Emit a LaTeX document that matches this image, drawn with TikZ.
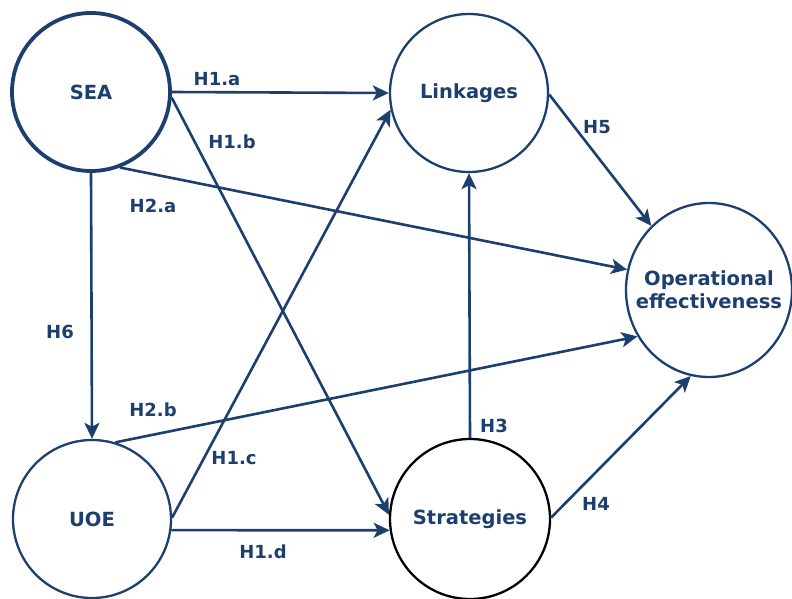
\documentclass[tikz,border=0pt]{standalone}
\usepackage{fontspec}
\setmainfont{DejaVu Sans}
\usetikzlibrary{arrows.meta,shapes.geometric}
\definecolor{navy}{HTML}{1C3F6E}
\tikzset{
  construct/.style={circle, draw=navy, line width=2.3pt, minimum size=158pt, inner sep=0pt,
    text=navy, font=\bfseries\fontsize{19.5}{22}\selectfont, align=center},
  path/.style={draw=navy, line width=2.6pt, -{Stealth[length=16pt,width=15pt,inset=4pt]}},
  hyp/.style={text=navy, font=\bfseries\fontsize{18}{20}\selectfont, inner sep=0pt}
}
\begin{document}
\begin{tikzpicture}[x=1pt,y=-1pt]
\useasboundingbox (0,0) rectangle (792,599);
\fill[white] (0,0) rectangle (792,599);

% latent constructs
\node[construct, line width=3.8pt] (sea) at (91,92) {SEA};
\node[construct] (lnk) at (469,93) {Linkages};
\node[construct] (uoe) at (92,519) {UOE};
\node[construct, draw=black, minimum size=160pt] (str) at (470,519) {Strategies};
\node[construct, ellipse, minimum width=166pt, minimum height=174pt] (ope) at (709,290) {};
\node[construct, draw=none, minimum size=0pt] (opetext) at (709,290)
  {Operational\\[1pt]effectiveness};

% hypothesised paths
\draw[path] (sea.east) -- (lnk.west);
\draw[path] (sea.-4) -- (str.177);
\draw[path] (sea.-69) -- (ope.166);
\draw[path] (sea.south) -- (uoe.north);
\draw[path] (uoe.1.5) -- (lnk.192);
\draw[path] (uoe.73) -- (ope.213);
\draw[path] (uoe.-8) -- (str.188);
\draw[path] (str.north) -- (lnk.south);
\draw[path] (str.1.5) -- (ope.258);
\draw[path] (lnk.-1.5) -- (ope.132);

% path labels
\node[hyp] (h1a) at (217,79) {H1.a};
\node[hyp] (h1b) at (232,142) {H1.b};
\node[hyp] (h2a) at (153,206) {H2.a};
\node[hyp] (h6) at (60,332) {H6};
\node[hyp] (h2b) at (153,410) {H2.b};
\node[hyp] (h1c) at (234,458) {H1.c};
\node[hyp] (h1d) at (263,552) {H1.d};
\node[hyp] (h3) at (494,426) {H3};
\node[hyp] (h4) at (596,504) {H4};
\node[hyp] (h5) at (597,127) {H5};
\end{tikzpicture}
\end{document}
